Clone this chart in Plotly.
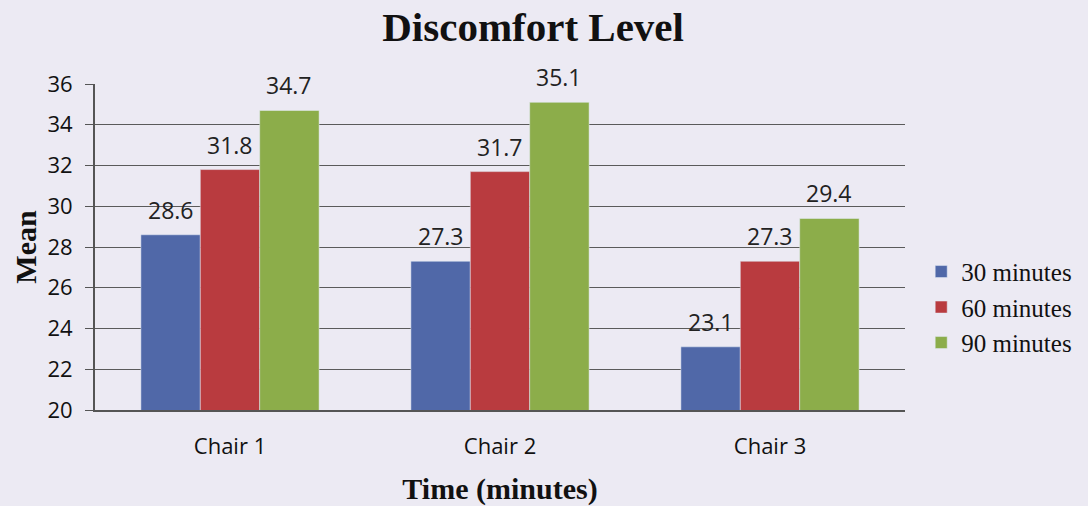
import plotly.graph_objects as go

# Discomfort level means per chair and sitting time
chairs = ["Chair 1", "Chair 2", "Chair 3"]
series_names = ["30 minutes", "60 minutes", "90 minutes"]
mean_30 = [28.6, 27.3, 23.1]
mean_60 = [31.8, 31.7, 27.3]
mean_90 = [34.7, 35.1, 29.4]
y_ticks = [20, 22, 24, 26, 28, 30, 32, 34, 36]

colors = ["#5068a8", "#b93b3f", "#8cad4a"]
bg = "#eceaf3"
bargap = 0.34

fig = go.Figure()
all_series = [mean_30, mean_60, mean_90]
for name, vals, col in zip(series_names, all_series, colors):
    fig.add_trace(go.Bar(x=chairs, y=vals, name=name, marker_color=col))

# value labels above the bars (offset per series within each group)
bar_w = (1 - bargap) / len(all_series)
for i, vals in enumerate(all_series):
    for j, v in enumerate(vals):
        fig.add_annotation(
            x=j + (i - 1) * bar_w, y=v, xref="x", yref="y",
            text=f"{v:.1f}", showarrow=False, yanchor="bottom", yshift=7,
            font=dict(family="Open Sans, Liberation Sans", size=23, color="#222"),
        )

fig.update_layout(
    width=1088, height=506,
    margin=dict(l=95, r=183, t=84, b=96, autoexpand=False),
    paper_bgcolor=bg, plot_bgcolor=bg,
    barmode="group", bargap=bargap, bargroupgap=0,
    title=dict(text="<b>Discomfort Level</b>", x=0.49, xanchor="center",
               y=0.947, yanchor="middle",
               font=dict(family="Liberation Serif", size=41, color="#111")),
    legend=dict(x=1.02, y=0.315, yanchor="middle", xanchor="left",
                font=dict(family="Liberation Serif", size=25, color="#111"),
                tracegroupgap=0, itemwidth=30, bgcolor="rgba(0,0,0,0)"),
    showlegend=True,
)
fig.update_xaxes(
    showline=True, linecolor="#555", linewidth=2,
    tickfont=dict(family="Open Sans, Liberation Sans", size=22, color="#111"),
    ticks="", ticklabelstandoff=16,
    title=dict(text="<b>Time (minutes)</b>", standoff=20,
               font=dict(family="Liberation Serif", size=30, color="#111")),
)
fig.update_yaxes(
    range=[20, 36], tickvals=y_ticks,
    showgrid=True, gridcolor="#5a5a5a", gridwidth=1,
    showline=True, linecolor="#555", linewidth=2,
    ticks="outside", ticklen=8, tickcolor="#555", ticklabelstandoff=8,
    tickfont=dict(family="Open Sans, Liberation Sans", size=22, color="#111"),
    title=dict(text="<b>Mean</b>", standoff=2,
               font=dict(family="Liberation Serif", size=30, color="#111")),
    zeroline=False,
)

fig.write_html("out.html", config={"displayModeBar": False},
               post_script="document.body.style.margin='0';")
